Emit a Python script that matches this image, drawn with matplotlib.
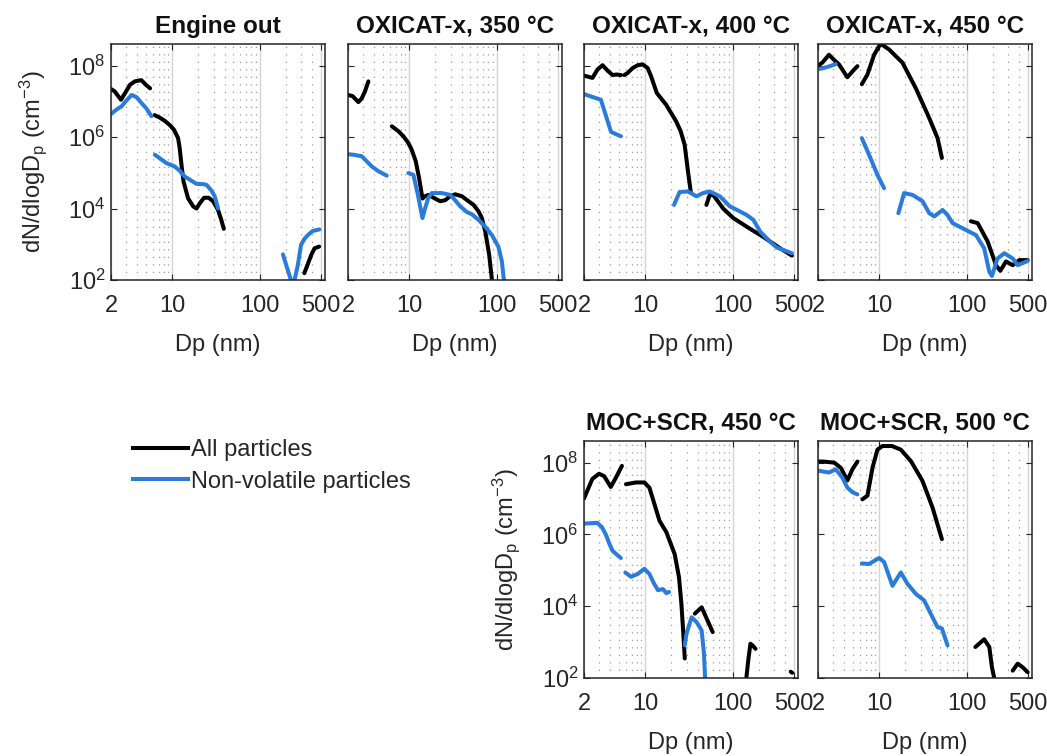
import numpy as np
import matplotlib
matplotlib.use('Agg')
import matplotlib.pyplot as plt
from matplotlib.lines import Line2D
from matplotlib.ticker import FixedLocator, NullFormatter

plt.rcParams['font.family'] = ['Liberation Sans', 'DejaVu Sans']
plt.rcParams['mathtext.default'] = 'regular'

nan = np.nan

# size distributions, NaN marks a gap between instrument ranges
eo_all_dp = [2.0, 2.2, 2.6, 2.9, 3.3, 3.75, 4.45, 5.0, 5.6, nan,
             6.3, 7.2, 8.3, 9.5, 10.5, 11.7, 12.2, 12.8, 13.5, 15.2, 17.4, 19.0, 20.7, 23.2,
             26.2, 29.4, 33.5, 36.5, 39.0, nan,
             325, 360, 390, 425, 480]
eo_all_dn = [2.2e7, 1.9e7, 1.1e7, 1.7e7, 2.9e7, 3.6e7, 3.9e7, 2.9e7, 2.3e7, nan,
             4.1e6, 3.5e6, 2.8e6, 2.1e6, 1.6e6, 9.3e5, 4.9e5, 1.65e5, 5.7e4, 1.94e4, 1.15e4, 1.0e4, 1.4e4, 2.0e4,
             2.0e4, 1.6e4, 9.1e3, 4.8e3, 2.7e3, nan,
             155, 300, 500, 770, 860]
eo_nv_dp = [2.0, 2.3, 2.64, 3.0, 3.44, 3.92, 4.47, 5.1, 5.8, nan,
            6.34, 8.61, 10.7, 12.2, 13.9, 16.6, 19.0, 22.6, 24.7, 28.1, 30.7, 33.5, nan,
            185, 207, 230, 240, 251, 274, 298, 325, 356, 405, 483]
eo_nv_dn = [4.4e6, 5.8e6, 7.2e6, 1.05e7, 1.5e7, 1.3e7, 8.9e6, 6.2e6, 3.8e6, nan,
            3.2e5, 1.86e5, 1.5e5, 1.14e5, 7.9e4, 6.0e4, 4.9e4, 4.8e4, 4.6e4, 3.2e4, 2.2e4, 1.0e4, nan,
            520, 212, 95, 80, 100, 263, 960, 1400, 1800, 2350, 2600]

ox350_all_dp = [2.0, 2.25, 2.63, 2.87, 3.13, 3.42, nan,
                6.34, 7.55, 8.6, 9.8, 10.7, 11.9, 13.0, 14.2, 15.2, 16.6, 19.8, 22.6, 25.8,
                29.4, 33.6, 40.1, 47.8, 54.6, 62.2, 67.9, 74.2, 82.4, 88.5, 92.0]
ox350_all_dn = [1.5e7, 1.4e7, 9.5e6, 1.2e7, 1.9e7, 3.6e7, nan,
                2.0e6, 1.45e6, 1.05e6, 6.8e5, 4.4e5, 2.1e5, 7.1e4, 1.9e4, 2.2e4, 2.4e4, 1.9e4, 1.6e4, 1.7e4,
                2.2e4, 2.5e4, 2.2e4, 1.6e4, 1.26e4, 8.3e3, 5.4e3, 2.3e3, 500, 100, 50]
ox350_nv_dp = [2.0, 2.3, 2.87, 3.74, 4.46, 5.55, nan,
               9.8, 11.2, 12.6, 14.2, 15.2, 16.6, 18.2, 23.7, 29.5, 33.6, 38.4, 45.7, 52.2,
               62.2, 74.2, 88.5, 105, 115, 120, 126]
ox350_nv_dn = [3.3e5, 3.2e5, 2.9e5, 1.5e5, 1.1e5, 8.3e4, nan,
               9.8e4, 8.7e4, 2.4e4, 5.4e3, 1.0e4, 2.0e4, 2.7e4, 2.7e4, 2.4e4, 1.7e4, 1.15e4, 8.0e3, 6.9e3,
               4.8e3, 3.1e3, 1.8e3, 850, 330, 124, 60]

ox400_all_dp = [2.0, 2.14, 2.5, 2.86, 3.26, 3.72, 4.25, 4.72, 5.3, nan,
                5.78, 6.32, 7.2, 8.24, 9.4, 10.7, 11.7, 13.6, 17.4, 22.7, 25.5, 28.3, 30.9, 33.2, nan,
                50.2, 54.8, 60.0, 78.0, 102, 145, 225, 350, 477]
ox400_all_dn = [5.2e7, 5.0e7, 4.5e7, 7.8e7, 1.02e8, 7.2e7, 5.4e7, 5.6e7, 5.4e7, nan,
                5.4e7, 6.2e7, 8.5e7, 1.02e8, 1.07e8, 8.5e7, 5.0e7, 1.7e7, 8.0e6, 2.7e6, 1.45e6, 6.1e5, 1.1e5, 3.0e4, nan,
                1.26e4, 2.4e4, 2.4e4, 1.0e4, 5.4e3, 3.1e3, 1.6e3, 770, 480]
ox400_nv_dp = [2.0, 2.14, 3.12, 4.07, 4.65, 5.3, nan,
               21.4, 24.8, 30.9, 38.5, 46.0, 54.8, 71.4, 93, 121, 145, 173, 206, 268, 320, 382, 477]
ox400_nv_dn = [1.6e7, 1.5e7, 1.1e7, 1.4e6, 1.2e6, 1.05e6, nan,
               1.26e4, 2.9e4, 3.0e4, 2.2e4, 2.7e4, 3.0e4, 2.2e4, 1.15e4, 8.3e3, 6.6e3, 4.8e3, 2.3e3, 1.18e3, 810, 690, 560]

ox450_all_dp = [2.0, 2.24, 2.67, 3.0, 3.48, 4.33, 5.0, 5.65, nan,
                6.34, 7.35, 8.77, 10.4, 13.0, 18.5, 26.3, 37.4, 46.6, 52.2, nan,
                112, 134, 174, 217, 243, 282, 337, 401, 499]
ox450_all_dn = [1.0e8, 1.2e8, 2.0e8, 1.5e8, 1.07e8, 4.7e7, 7.0e7, 9.6e7, nan,
                3.0e7, 5.6e7, 2.0e8, 4.1e8, 2.8e8, 1.2e8, 2.3e7, 3.4e6, 9.3e5, 2.6e5, nan,
                4.4e3, 3.9e3, 1.2e3, 260, 180, 330, 260, 360, 360]
ox450_nv_dp = [2.0, 2.24, 2.7, 3.19, nan,
               6.34, 7.67, 9.57, 11.4, nan,
               16.6, 19.3, 24.1, 31.4, 37.4, 42.7, 53.1, 60.5, 69.2, 90, 128, 159, 182, 195,
               226, 270, 337, 384, 499]
ox450_nv_dn = [8.0e7, 8.3e7, 9.5e7, 1.1e8, nan,
               9.3e5, 3.2e5, 8.7e4, 3.7e4, nan,
               7.4e3, 2.7e4, 2.4e4, 1.6e4, 7.4e3, 6.0e3, 9.1e3, 6.6e3, 3.9e3, 2.8e3, 1.8e3, 770, 170, 130,
               400, 560, 400, 260, 340]

moc450_all_dp = [2.0, 2.49, 2.97, 3.4, 4.05, 4.63, 5.43, nan,
                 6.04, 7.87, 9.8, 11.2, 12.8, 14.6, 17.5, 21.8, 24.4, 26.0, 27.2, 28.4, nan,
                 37.0, 44.3, 50.6, 59.3, nan,
                 143, 152, 160, 170, 183, nan,
                 462, 480]
moc450_all_dn = [1.0e7, 3.5e7, 4.9e7, 4.2e7, 2.1e7, 3.8e7, 8.1e7, nan,
                 2.5e7, 2.8e7, 2.8e7, 2.0e7, 6.9e6, 2.4e6, 1.15e6, 2.8e5, 6.4e4, 1.15e4, 2.1e3, 350, nan,
                 6.2e3, 9.3e3, 4.5e3, 1.9e3, nan,
                 90, 350, 900, 800, 650, nan,
                 150, 140]
moc450_nv_dp = [2.0, 2.4, 2.84, 3.2, 3.55, 3.9, 4.24, 4.7, 5.28, nan,
                5.93, 6.89, 8.22, 9.8, 11.2, 12.5, 14.0, 16.0, 17.5, 18.8, nan,
                28.4, 29.7, 34.0, 38.8, 44.3, 47.1, 48.4, 50.0]
moc450_nv_dn = [2.0e6, 2.05e6, 2.1e6, 1.6e6, 1.0e6, 5.5e5, 3.5e5, 2.8e5, 2.2e5, nan,
                8.7e4, 6.6e4, 7.9e4, 1.1e5, 7.9e4, 4.5e4, 2.8e4, 3.0e4, 2.3e4, 2.5e4, nan,
                810, 1.7e3, 4.9e3, 3.6e3, 2.1e3, 470, 107, 50]

moc500_all_dp = [2.0, 2.29, 3.06, 3.64, 4.34, 4.95, 5.65, nan,
                 6.44, 7.35, 8.4, 9.57, 10.9, 14.0, 17.7, 23.1, 31.3, 40.8, 52.2, nan,
                 126, 159, 182, 195, 207, 215, nan,
                 337, 384, 437, 499]
moc500_all_dn = [1.07e8, 1.07e8, 1.0e8, 7.2e7, 3.2e7, 6.5e7, 1.07e8, nan,
                 9.5e6, 1.2e7, 7.2e7, 2.3e8, 2.9e8, 2.9e8, 2.3e8, 1.1e8, 3.1e7, 5.6e6, 7.4e5, nan,
                 730, 1.2e3, 730, 200, 100, 60, nan,
                 160, 250, 200, 145]
moc500_nv_dp = [2.0, 2.67, 3.19, 3.8, 4.34, 4.95, 5.65, nan,
                6.34, 7.67, 10.0, 11.4, 14.2, 17.7, 21.1, 26.3, 32.7, 40.8, 46.6, 52.2, 60.6]
moc500_nv_dn = [6.0e7, 5.3e7, 6.5e7, 3.8e7, 2.0e7, 1.5e7, 1.3e7, nan,
                1.55e5, 1.5e5, 2.2e5, 1.7e5, 3.7e4, 8.7e4, 4.2e4, 2.2e4, 1.45e4, 4.9e3, 2.6e3, 2.4e3, 810]

titles = ['Engine out', 'OXICAT-x, 350 °C', 'OXICAT-x, 400 °C', 'OXICAT-x, 450 °C',
          'MOC+SCR, 450 °C', 'MOC+SCR, 500 °C']
series = [(eo_all_dp, eo_all_dn, eo_nv_dp, eo_nv_dn),
          (ox350_all_dp, ox350_all_dn, ox350_nv_dp, ox350_nv_dn),
          (ox400_all_dp, ox400_all_dn, ox400_nv_dp, ox400_nv_dn),
          (ox450_all_dp, ox450_all_dn, ox450_nv_dp, ox450_nv_dn),
          (moc450_all_dp, moc450_all_dn, moc450_nv_dp, moc450_nv_dn),
          (moc500_all_dp, moc500_all_dn, moc500_nv_dp, moc500_nv_dn)]

xticks = [2, 10, 100, 500]
xticklabels = ['2', '10', '100', '500']
yticks = [1e2, 1e4, 1e6, 1e8]
yticklabels = ['10$^{2}$', '10$^{4}$', '10$^{6}$', '10$^{8}$']
xminor = [3, 4, 5, 6, 7, 8, 9, 20, 30, 40, 50, 60, 70, 80, 90, 200, 300, 400]

black = '#000000'
blue = '#2a7bdb'
axcol = '#262626'
lw = 2.9
fs = 17

W, H = 1047, 756
fig = plt.figure(figsize=(W / 100, H / 100), dpi=100)

# panel boxes in pixels: left, top, width, height
col_left = [111, 348, 584, 818]
boxes = [(col_left[0], 44, 214, 236), (col_left[1], 44, 214, 236),
         (col_left[2], 44, 214, 236), (col_left[3], 44, 214, 236),
         (col_left[2], 441, 214, 237), (col_left[3], 441, 214, 237)]

for i, (title, (adp, adn, ndp, ndn), (l, t, w, h)) in enumerate(zip(titles, series, boxes)):
    ax = fig.add_axes([l / W, 1 - (t + h) / H, w / W, h / H])
    ax.plot(adp, adn, color=black, lw=lw, solid_capstyle='round', solid_joinstyle='round')
    ax.plot(ndp, ndn, color=blue, lw=lw, solid_capstyle='round', solid_joinstyle='round')
    ax.set_xscale('log')
    ax.set_yscale('log')
    ax.set_xlim(2, 560)
    ax.set_ylim(1e2, 4e8)

    ax.xaxis.set_major_locator(FixedLocator(xticks))
    ax.set_xticklabels(xticklabels)
    ax.xaxis.set_minor_locator(FixedLocator(xminor))
    ax.xaxis.set_minor_formatter(NullFormatter())
    ax.yaxis.set_major_locator(FixedLocator(yticks))
    ax.yaxis.set_minor_locator(FixedLocator([]))
    if i in (0, 4):
        ax.set_yticklabels(yticklabels)
        ax.set_ylabel('dN/dlogD$_\\mathregular{p}$ (cm$^{-3}$)', fontsize=fs, color=axcol, labelpad=14)
    else:
        ax.set_yticklabels([])

    ax.grid(True, which='major', axis='x', color='#d4d4d4', lw=1.0, ls='-')
    ax.grid(True, which='minor', axis='x', color='#9a9a9a', lw=0.9, ls=(0, (1.0, 5.0)))
    ax.set_axisbelow(True)

    ax.tick_params(which='major', direction='in', length=4, width=0.8, top=True, right=True,
                   colors=axcol, labelsize=fs)
    ax.tick_params(axis='x', which='major', pad=11)
    ax.tick_params(axis='y', which='major', pad=4)
    ax.tick_params(which='minor', length=0)
    for s in ax.spines.values():
        s.set_color(axcol)
        s.set_linewidth(1.1)

    ax.set_xlabel('Dp (nm)', fontsize=fs, color=axcol, labelpad=12)
    ax.set_title(title, fontsize=17.5, fontweight='bold', color='#111111', pad=8)

handles = [Line2D([], [], color=black, lw=lw), Line2D([], [], color=blue, lw=lw)]
fig.legend(handles, ['All particles', 'Non-volatile particles'], loc='upper left',
           bbox_to_anchor=(112 / W, 1 - 418 / H), frameon=False, fontsize=fs,
           handlelength=2.3, handletextpad=0.15, labelspacing=0.4, labelcolor=axcol)

fig.savefig('out.png', dpi=100)
